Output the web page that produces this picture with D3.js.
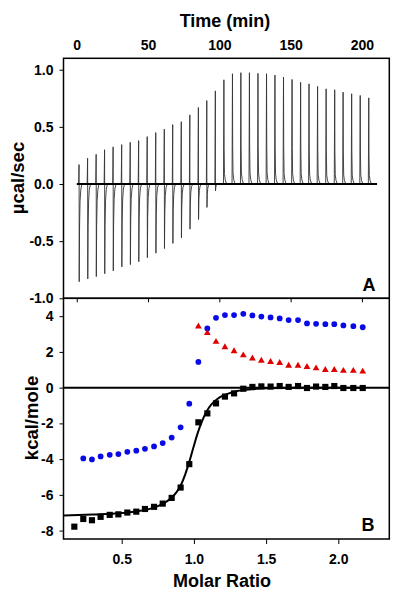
<!DOCTYPE html>
<html><head><meta charset="utf-8">
<script src="https://cdn.jsdelivr.net/npm/d3@7"></script>
<style>
html,body{margin:0;padding:0;background:#fff;}
svg{display:block;}
text{font-family:"Liberation Sans",Arial,sans-serif;font-weight:bold;fill:#000;}
</style></head>
<body>
<svg id="c" width="406" height="599"></svg>
<script>
// ---------- DATA ----------
// Panel A: injection times (min) and peak heights (µcal/sec)
const injTimes = [1.6,7.6,13.6,19.5,25.5,31.5,37.5,43.4,49.4,55.4,61.4,67.3,73.3,79.3,85.3,91.2,97.2,103.2,109.2,115.1,121.1,127.1,133.1,139.0,145.0,151.0,157.0,162.9,168.9,174.9,180.9,186.8,192.8,198.8,204.8];
const upPeaks = [0.17,0.225,0.26,0.30,0.325,0.345,0.365,0.38,0.415,0.45,0.48,0.52,0.545,0.605,0.67,0.73,0.815,0.912,0.965,0.974,0.974,0.968,0.965,0.953,0.936,0.915,0.89,0.877,0.854,0.833,0.825,0.804,0.79,0.775,0.754];
const downPeaks = [-0.855,-0.83,-0.81,-0.785,-0.76,-0.725,-0.705,-0.68,-0.645,-0.605,-0.565,-0.52,-0.47,-0.395,-0.31,-0.205,-0.06,0,0,0,0,0,0,0,0,0,0,0,0,0,0,0,0,0,0];
const baselineEnd = 210.6;
const timeTicks = [0,50,100,150,200];
const rateTicks = [-1.0,-0.5,0.0,0.5,1.0];

// Panel B: molar ratio and heats (kcal/mole)
const molarRatio = [0.172,0.234,0.294,0.354,0.417,0.477,0.539,0.601,0.661,0.724,0.784,0.846,0.908,0.968,1.031,1.093,1.153,1.215,1.278,1.342,1.405,1.467,1.531,1.594,1.656,1.721,1.783,1.846,1.910,1.972,2.035,2.104,2.169];
const squareHeats = [-7.78,-7.35,-7.42,-7.23,-7.12,-7.09,-6.99,-6.94,-6.79,-6.67,-6.49,-6.17,-5.59,-4.28,-1.94,-1.44,-0.88,-0.50,-0.32,-0.06,0.04,0.07,0.06,0.09,0.04,0.09,-0.02,0.06,0.04,0.09,-0.02,-0.02,-0.02];
const circleRatio = [0.234,0.294,0.354,0.417,0.477,0.539,0.601,0.661,0.724,0.784,0.846,0.908,0.968,1.031,1.093,1.153,1.215,1.278,1.342,1.405,1.467,1.531,1.594,1.656,1.721,1.783,1.846,1.910,1.972,2.035,2.104,2.169];
const circleHeats = [-3.96,-4.02,-3.85,-3.76,-3.72,-3.59,-3.53,-3.42,-3.29,-3.10,-2.79,-2.22,-0.90,1.44,3.31,3.91,4.06,4.06,4.13,4.04,3.98,3.93,3.87,3.78,3.78,3.59,3.57,3.55,3.55,3.48,3.44,3.38];
const triangleRatio = [1.031,1.093,1.153,1.215,1.278,1.342,1.405,1.467,1.531,1.594,1.656,1.721,1.783,1.846,1.910,1.972,2.035,2.104,2.169];
const triangleHeats = [3.42,3.05,2.56,2.26,2.04,1.81,1.63,1.51,1.44,1.38,1.23,1.23,1.16,1.08,0.99,0.99,0.94,0.94,0.90];
const fitRatio = [0.10,0.30,0.50,0.60,0.70,0.75,0.80,0.85,0.88,0.91,0.94,0.97,1.00,1.03,1.06,1.09,1.12,1.16,1.20,1.25,1.30,1.40,1.50,1.70,2.17];
const fitHeats = [-7.15,-7.10,-7.02,-6.93,-6.77,-6.63,-6.43,-6.12,-5.85,-5.45,-4.85,-4.10,-3.25,-2.45,-1.80,-1.30,-0.95,-0.65,-0.45,-0.30,-0.19,-0.09,-0.04,-0.01,0.0];
const ratioTicks = [0.5,1.0,1.5,2.0];
const heatTicks = [-8,-6,-4,-2,0,2,4];

// ---------- LAYOUT ----------
const L = 63.5, R = 389.3, TA = 58.3, MID = 298.3, BB = 539;
const svg = d3.select("#c");

const xT = d3.scaleLinear().domain([-9.3, 219.2]).range([L, R]);
const yA = d3.scaleLinear().domain([-1, 1.1]).range([MID, TA]);
const xM = d3.scaleLinear().domain([0.097, 2.353]).range([L, R]);
const yB = d3.scaleLinear().domain([-8.47, 5]).range([BB, MID]);

const fmtMinus = f => v => f(v).replace("\u2212", "-");

// ---------- PANEL A ----------
const gA = svg.append("g");
const trace = [];
injTimes.forEach((t, i) => {
  const u = upPeaks[i], d = downPeaks[i];
  trace.push([t - 0.3, 0], [t, u]);
  if (d < 0) {
    trace.push([t + 0.05, 0], [t + 0.12, d], [t + 0.35, d * 0.45], [t + 0.7, d * 0.18], [t + 1.2, d * 0.06], [t + 2.0, 0]);
  } else {
    trace.push([t + 0.15, u * 0.35], [t + 0.4, u * 0.1], [t + 0.9, u * 0.04], [t + 1.6, u * 0.01], [t + 2.6, 0]);
  }
  trace.push([t + 5.5, 0]);
});
gA.append("path")
  .attr("d", d3.line().x(p => xT(p[0])).y(p => yA(p[1]))(trace))
  .attr("fill", "none").attr("stroke", "#333").attr("stroke-width", 0.9);
gA.append("line")
  .attr("x1", xT(0)).attr("x2", xT(baselineEnd))
  .attr("y1", yA(0)).attr("y2", yA(0))
  .attr("stroke", "#000").attr("stroke-width", 2);

const axTop = svg.append("g").attr("transform", `translate(0,${TA})`)
  .call(d3.axisTop(xT).tickValues(timeTicks).tickSize(0).tickPadding(8).tickFormat(d3.format("d")));
const axTBot = svg.append("g").attr("transform", `translate(0,${MID})`)
  .call(d3.axisBottom(xT).tickValues(timeTicks).tickSize(4).tickFormat(""));
const axLA = svg.append("g").attr("transform", `translate(${L},0)`)
  .call(d3.axisLeft(yA).tickValues(rateTicks).tickSize(4).tickPadding(6).tickFormat(fmtMinus(d3.format(".1f"))));

// ---------- PANEL B ----------
const gB = svg.append("g");
gB.append("line")
  .attr("x1", L).attr("x2", R).attr("y1", yB(0)).attr("y2", yB(0))
  .attr("stroke", "#000").attr("stroke-width", 2);
gB.append("path")
  .attr("d", d3.line().curve(d3.curveMonotoneX).x((d, i) => xM(fitRatio[i])).y(d => yB(d))(fitHeats))
  .attr("fill", "none").attr("stroke", "#000").attr("stroke-width", 2);
gB.selectAll(".sq").data(squareHeats).join("path")
  .attr("transform", (d, i) => `translate(${xM(molarRatio[i])},${yB(d)})`)
  .attr("d", d3.symbol(d3.symbolSquare, 38)).attr("fill", "#000");
gB.selectAll(".ci").data(circleHeats).join("path")
  .attr("transform", (d, i) => `translate(${xM(circleRatio[i])},${yB(d)})`)
  .attr("d", d3.symbol(d3.symbolCircle, 26)).attr("fill", "#0a0ae6");
gB.selectAll(".tr").data(triangleHeats).join("path")
  .attr("transform", (d, i) => `translate(${xM(triangleRatio[i])},${yB(d)})`)
  .attr("d", d3.symbol(d3.symbolTriangle, 20)).attr("fill", "#e00000");

const axLB = svg.append("g").attr("transform", `translate(${L},0)`)
  .call(d3.axisLeft(yB).tickValues(heatTicks).tickSize(4).tickPadding(6).tickFormat(fmtMinus(d3.format("d"))));
const axBB = svg.append("g").attr("transform", `translate(0,${BB})`)
  .call(d3.axisBottom(xM).tickValues(ratioTicks).tickSize(5).tickPadding(10).tickFormat(d3.format(".1f")));

[axTop, axTBot, axLA, axLB, axBB].forEach(a => {
  a.select(".domain").remove();
  a.selectAll("text").style("font-size", "14px").style("font-family", '"Liberation Sans",Arial,sans-serif').style("font-weight", "bold").attr("fill", "#000");
  a.selectAll("line").attr("stroke", "#000");
});

svg.append("rect").attr("x", L).attr("y", TA).attr("width", R - L).attr("height", MID - TA)
  .attr("fill", "none").attr("stroke", "#000").attr("stroke-width", 1.5);
svg.append("rect").attr("x", L).attr("y", MID).attr("width", R - L).attr("height", BB - MID)
  .attr("fill", "none").attr("stroke", "#000").attr("stroke-width", 1.5);

svg.append("text").attr("x", 225).attr("y", 27).attr("text-anchor", "middle").style("font-size", "18px").text("Time (min)");
svg.append("text").attr("x", 222).attr("y", 587).attr("text-anchor", "middle").style("font-size", "18px").text("Molar Ratio");
svg.append("text").attr("transform", "translate(24,178) rotate(-90)").attr("text-anchor", "middle").style("font-size", "18.5px").text("µcal/sec");
svg.append("text").attr("transform", "translate(38,418) rotate(-90)").attr("text-anchor", "middle").style("font-size", "18.5px").text("kcal/mole");
svg.append("text").attr("x", 369).attr("y", 291).attr("text-anchor", "middle").style("font-size", "18px").text("A");
svg.append("text").attr("x", 368).attr("y", 531).attr("text-anchor", "middle").style("font-size", "18px").text("B");
</script>
</body></html>
